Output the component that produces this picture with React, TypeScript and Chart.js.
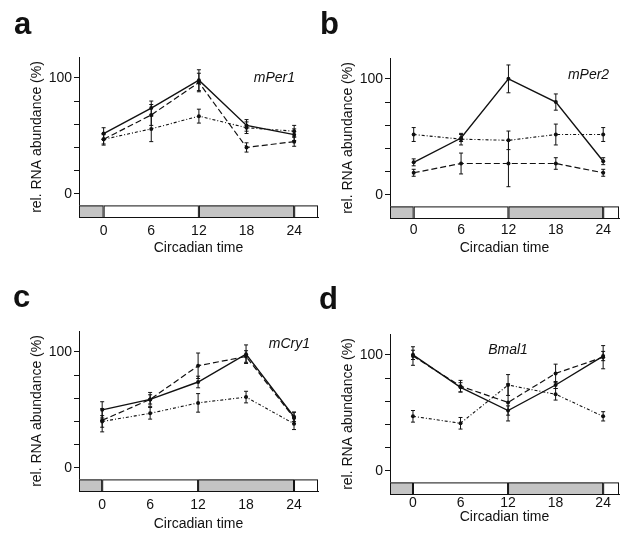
import React, { useEffect, useRef } from "react";
import { Chart, registerables } from "chart.js";
Chart.register(...registerables);

const circadianHours = [0, 6, 12, 18, 24];
const yTickValues = [0, 20, 40, 60, 80, 100];
const yLabelledTicks = [0, 100];
const panelLetters = ["a", "b", "c", "d"];
const geneNames = ["mPer1", "mPer2", "mCry1", "Bmal1"];
const yAxisTitle = "rel. RNA abundance (%)";
const xAxisTitle = "Circadian time";

// light / dark bar below each plot
const barStarts = [-4, 0, 12, 24];
const barEnds = [0, 12, 24, 30];
const barIsDark = [true, false, true, false];
const barTopValue = -10;
const barBottomValue = -20;

// mPer1
const mPer1Solid = [52, 74, 98, 59, 51];
const mPer1SolidErr = [5, 6, 9, 5, 5];
const mPer1Dashed = [47, 68, 96, 40, 45];
const mPer1DashedErr = [5, 9, 8, 4, 4];
const mPer1Dotted = [47, 56, 67, 57, 54];
const mPer1DottedErr = [4, 11, 6, 5, 5];
// mPer2
const mPer2Solid = [28, 49, 100, 80, 29];
const mPer2SolidErr = [3, 3, 12, 7, 3];
const mPer2Dashed = [19, 27, 27, 27, 19];
const mPer2DashedErr = [3, 9, 20, 5, 3];
const mPer2Dotted = [52, 48, 47, 52, 52];
const mPer2DottedErr = [6, 5, 8, 9, 6];
// mCry1
const mCry1Solid = [50, 59, 74, 98, 44];
const mCry1SolidErr = [7, 4, 5, 8, 4];
const mCry1Dashed = [41, 59, 88, 96, 43];
const mCry1DashedErr = [10, 6, 11, 5, 5];
const mCry1Dotted = [40, 47, 56, 61, 38];
const mCry1DottedErr = [5, 5, 8, 5, 5];
// Bmal1
const bmal1Solid = [100, 72, 52, 74, 99];
const bmal1SolidErr = [4, 4, 4, 3, 4];
const bmal1Dashed = [99, 73, 59, 84, 98];
const bmal1DashedErr = [8, 5, 16, 8, 10];
const bmal1Dotted = [47, 41, 74, 66, 47];
const bmal1DottedErr = [5, 5, 9, 5, 4];

const geneLabelX = [24.1, 24.75, 26, 12];
const geneLabelY = [100, 103, 107, 104];
const geneLabelAlign = ["right", "right", "right", "center"];

const panelValues = [
  [mPer1Dotted, mPer1Dashed, mPer1Solid],
  [mPer2Dotted, mPer2Dashed, mPer2Solid],
  [mCry1Dotted, mCry1Dashed, mCry1Solid],
  [bmal1Dotted, bmal1Dashed, bmal1Solid],
];
const panelErrors = [
  [mPer1DottedErr, mPer1DashedErr, mPer1SolidErr],
  [mPer2DottedErr, mPer2DashedErr, mPer2SolidErr],
  [mCry1DottedErr, mCry1DashedErr, mCry1SolidErr],
  [bmal1DottedErr, bmal1DashedErr, bmal1SolidErr],
];

// styles for dotted, dashed, solid
const lineDashes = [[3, 2, 1, 2], [6, 3], []];
const lineWidths = [1.1, 1.2, 1.4];

// layout of each panel
const layouts = [
  { left: 0, top: 0, w: 322, h: 266, padTop: 57, xMin: -3.1, xMax: 27, xAxisH: 49, tickPad: 6, titlePad: 9.6, letterTop: 8.6, letterLeft: 14 },
  { left: 311, top: 0, w: 312, h: 266, padTop: 58, xMin: -3, xMax: 26, xAxisH: 48, tickPad: 4, titlePad: 9.6, letterTop: 8.6, letterLeft: 320 },
  { left: 0, top: 266, w: 322, h: 267, padTop: 65, xMin: -2.9, xMax: 27, xAxisH: 42, tickPad: 6, titlePad: 0, letterTop: 281.6, letterLeft: 13 },
  { left: 311, top: 266, w: 312, h: 267, padTop: 68, xMin: -2.9, xMax: 26, xAxisH: 39, tickPad: 1, titlePad: 7.6, letterTop: 283.6, letterLeft: 319 },
];

const FONT = "'Liberation Sans', Arial, sans-serif";
const INK = "#111";

const errorBarPlugin = {
  id: "errorBars",
  afterDatasetsDraw(chart: any) {
    const ctx = chart.ctx;
    const ys = chart.scales.y;
    ctx.save();
    ctx.strokeStyle = INK;
    ctx.lineWidth = 1;
    chart.data.datasets.forEach((ds: any, di: number) => {
      const meta = chart.getDatasetMeta(di);
      meta.data.forEach((pt: any, i: number) => {
        const v = ds.data[i].y;
        const e = ds.errors[i];
        const y1 = ys.getPixelForValue(v + e);
        const y2 = ys.getPixelForValue(v - e);
        const x = pt.x;
        ctx.beginPath();
        ctx.moveTo(x, y1);
        ctx.lineTo(x, y2);
        ctx.moveTo(x - 2, y1);
        ctx.lineTo(x + 2, y1);
        ctx.moveTo(x - 2, y2);
        ctx.lineTo(x + 2, y2);
        ctx.stroke();
      });
    });
    ctx.restore();
  },
};

const lightDarkPlugin = {
  id: "lightDark",
  afterDraw(chart: any) {
    const ctx = chart.ctx;
    const xs = chart.scales.x;
    const ys = chart.scales.y;
    const area = chart.chartArea;
    const yT = ys.getPixelForValue(barTopValue);
    const yB = ys.getPixelForValue(barBottomValue);
    ctx.save();
    for (let i = 0; i < barStarts.length; i++) {
      const x1 = Math.max(area.left, xs.getPixelForValue(barStarts[i]));
      const x2 = Math.min(area.right, xs.getPixelForValue(barEnds[i]));
      if (x2 <= x1) continue;
      ctx.fillStyle = barIsDark[i] ? "#c4c4c4" : "#ffffff";
      ctx.fillRect(x1, yT, x2 - x1, yB - yT);
      ctx.strokeStyle = INK;
      ctx.lineWidth = 1;
      ctx.strokeRect(x1 + 0.5, yT + 0.5, x2 - x1 - 1, yB - yT);
    }
    ctx.restore();
  },
};

const geneLabelPlugin = {
  id: "geneLabel",
  afterDraw(chart: any, _args: any, opts: any) {
    const ctx = chart.ctx;
    const xs = chart.scales.x;
    const ys = chart.scales.y;
    const idx = opts.index;
    ctx.save();
    ctx.fillStyle = INK;
    ctx.font = `italic 14px ${FONT}`;
    ctx.textAlign = geneLabelAlign[idx];
    ctx.textBaseline = "middle";
    ctx.fillText(geneNames[idx], xs.getPixelForValue(geneLabelX[idx]), ys.getPixelForValue(geneLabelY[idx]));
    ctx.restore();
  },
};

function Panel({ index }: { index: number }) {
  const ref = useRef<HTMLCanvasElement>(null);
  const L = layouts[index];
  useEffect(() => {
    const datasets = panelValues[index].map((vals, si) => ({
      data: circadianHours.map((h, i) => ({ x: h, y: vals[i] })),
      errors: panelErrors[index][si],
      borderColor: INK,
      backgroundColor: INK,
      borderWidth: lineWidths[si],
      borderDash: lineDashes[si],
      pointRadius: 2,
      pointBackgroundColor: INK,
      pointBorderWidth: 0,
      tension: 0,
      fill: false,
    }));
    const chart = new Chart(ref.current as HTMLCanvasElement, {
      type: "line",
      data: { datasets } as any,
      plugins: [errorBarPlugin, lightDarkPlugin, geneLabelPlugin],
      options: {
        animation: false,
        responsive: false,
        layout: { padding: { top: L.padTop, left: 0, right: L.w - 79 - 8 * (L.xMax - L.xMin), bottom: 0 } },
        plugins: {
          legend: { display: false },
          tooltip: { enabled: false },
          geneLabel: { index },
        } as any,
        scales: {
          x: {
            type: "linear",
            min: L.xMin,
            max: L.xMax,
            afterBuildTicks: (s: any) => { s.ticks = circadianHours.map((v) => ({ value: v })); },
            afterFit: (s: any) => { s.height = L.xAxisH; },
            grid: { display: false, drawTicks: false },
            border: { display: true, color: INK, width: 1 },
            ticks: { color: INK, font: { family: FONT, size: 14 }, padding: L.tickPad, maxRotation: 0, autoSkip: false },
            title: { display: true, text: xAxisTitle, color: INK, font: { family: FONT, size: 14 }, padding: { top: 0, bottom: L.titlePad } },
          },
          y: {
            type: "linear",
            min: -20,
            max: 118,
            afterBuildTicks: (s: any) => { s.ticks = yTickValues.map((v) => ({ value: v })); },
            afterFit: (s: any) => { s.width = 79; },
            grid: { display: true, drawOnChartArea: false, drawTicks: true, tickLength: 5, color: INK },
            border: { display: true, color: INK, width: 1 },
            ticks: {
              color: INK,
              font: { family: FONT, size: 14 },
              padding: 2,
              autoSkip: false,
              callback: (v: any) => (yLabelledTicks.includes(Number(v)) ? String(v) : ""),
            },
            title: { display: true, text: yAxisTitle, color: INK, font: { family: FONT, size: 14 }, padding: { top: 29, bottom: 0 } },
          },
        },
      } as any,
    });
    return () => chart.destroy();
  }, []);
  return (
    <>
      <canvas
        ref={ref}
        width={L.w}
        height={L.h}
        style={{ position: "absolute", left: L.left, top: L.top, width: L.w, height: L.h }}
      />
      <div
        style={{
          position: "absolute",
          left: L.letterLeft,
          top: L.letterTop,
          font: `bold 31px ${FONT}`,
          lineHeight: "30px",
          color: INK,
        }}
      >
        {panelLetters[index]}
      </div>
    </>
  );
}

export default function App() {
  return (
    <div style={{ position: "fixed", left: 0, top: 0, width: 623, height: 533, background: "#fff", overflow: "hidden" }}>
      {[0, 1, 2, 3].map((i) => (
        <Panel key={i} index={i} />
      ))}
    </div>
  );
}
